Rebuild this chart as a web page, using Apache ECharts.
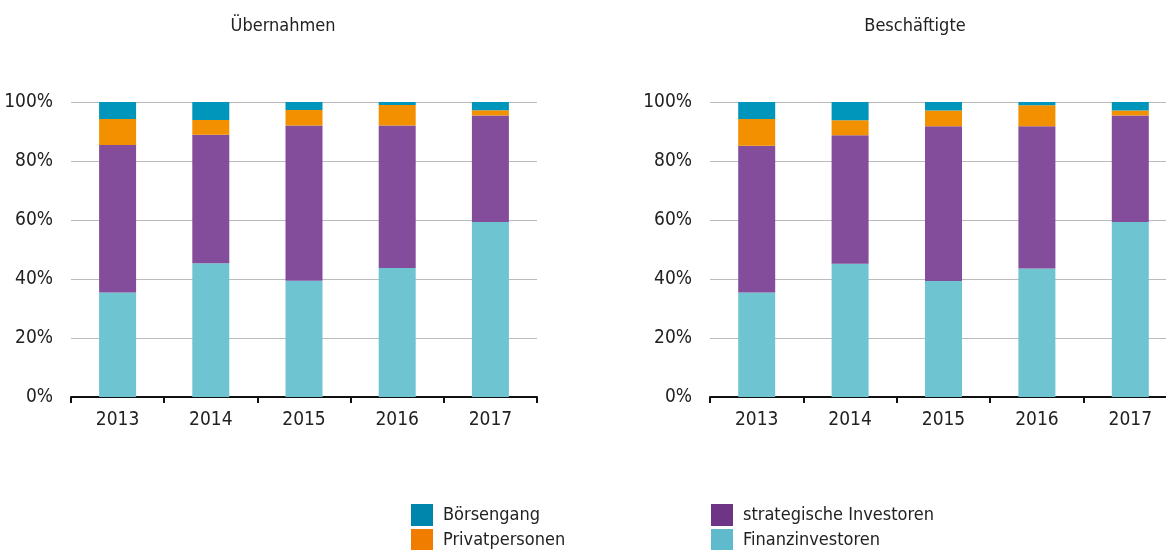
<!DOCTYPE html>
<html>
<head>
<meta charset="utf-8">
<script src="https://cdn.jsdelivr.net/npm/echarts@6/dist/echarts.min.js"></script>
<style>
  html, body { margin: 0; padding: 0; background: #fff; }
  #chart { width: 1166px; height: 550px; }
</style>
</head>
<body>
<div id="chart"></div>
<script>
var years = ['2013', '2014', '2015', '2016', '2017'];

// Übernahmen (%)
var uFinanz = [35.4, 45.3, 39.4, 43.7, 59.3];
var uStrategisch = [50.0, 43.6, 52.6, 48.3, 36.1];
var uPrivat = [8.8, 5.0, 5.3, 7.0, 1.8];
var uBoerse = [5.8, 6.1, 2.7, 1.0, 2.8];

// Beschäftigte (%)
var bFinanz = [35.4, 45.2, 39.3, 43.6, 59.3];
var bStrategisch = [49.8, 43.5, 52.5, 48.2, 36.1];
var bPrivat = [9.0, 5.1, 5.3, 7.1, 1.7];
var bBoerse = [5.8, 6.2, 2.9, 1.1, 2.9];

var yTicks = [0, 20, 40, 60, 80, 100];

var font = '"Liberation Sans Narrow", "DejaVu Sans Condensed", "Roboto", sans-serif';
var colors = {
    'Finanzinvestoren': '#6ec5d1',
    'strategische Investoren': '#834d9c',
    'Privatpersonen': '#f39000',
    'Börsengang': '#0095bb'
};
var legendColors = {
    'Börsengang': '#0085ad',
    'Privatpersonen': '#f07c00',
    'strategische Investoren': '#6e3587',
    'Finanzinvestoren': '#5fbbcb'
};

var chart = echarts.init(document.getElementById('chart'));

function xAxis(idx) {
    return {
        type: 'category',
        gridIndex: idx,
        data: years,
        axisLine: { lineStyle: { color: '#111', width: 2 } },
        axisTick: { show: true, length: 6, lineStyle: { color: '#111', width: 2 } },
        axisLabel: { color: '#222', fontSize: 19, fontFamily: font, margin: 14 }
    };
}
function yAxis(idx) {
    return {
        type: 'value',
        gridIndex: idx,
        min: yTicks[0],
        max: yTicks[yTicks.length - 1],
        interval: 20,
        axisLine: { show: false },
        axisTick: { show: false },
        splitLine: { lineStyle: { color: '#bbbbbb', width: 1 } },
        axisLabel: { color: '#222', fontSize: 19, fontFamily: font, margin: 18, formatter: '{value}%' }
    };
}
function bar(name, data, idx) {
    return {
        name: name,
        type: 'bar',
        stack: 'total' + idx,
        xAxisIndex: idx,
        yAxisIndex: idx,
        barWidth: 37,
        itemStyle: { color: colors[name] },
        data: data
    };
}
function legend(name, left, top) {
    return {
        left: left, top: top, padding: 0,
        itemWidth: 22, itemHeight: 22, itemGap: 0,
        icon: 'rect', selectedMode: false,
        textStyle: { fontSize: 18, color: '#222', fontFamily: font, padding: [0, 0, 0, 5] },
        data: [{ name: name, itemStyle: { color: legendColors[name] } }]
    };
}

chart.setOption({
    animation: false,
    title: [
        { text: 'Übernahmen', left: 278, top: 12, textAlign: 'center',
          textStyle: { fontSize: 18, fontWeight: 'normal', color: '#222', fontFamily: font } },
        { text: 'Beschäftigte', left: 910, top: 12, textAlign: 'center',
          textStyle: { fontSize: 18, fontWeight: 'normal', color: '#222', fontFamily: font } }
    ],
    legend: [
        legend('Börsengang', 411, 504),
        legend('Privatpersonen', 411, 529),
        legend('strategische Investoren', 711, 504),
        legend('Finanzinvestoren', 711, 529)
    ],
    grid: [
        { left: 71, width: 466, top: 102, bottom: 153, outerBoundsMode: 'none' },
        { left: 710, width: 467, top: 102, bottom: 153, outerBoundsMode: 'none' }
    ],
    xAxis: [xAxis(0), xAxis(1)],
    yAxis: [yAxis(0), yAxis(1)],
    series: [
        bar('Finanzinvestoren', uFinanz, 0),
        bar('strategische Investoren', uStrategisch, 0),
        bar('Privatpersonen', uPrivat, 0),
        bar('Börsengang', uBoerse, 0),
        bar('Finanzinvestoren', bFinanz, 1),
        bar('strategische Investoren', bStrategisch, 1),
        bar('Privatpersonen', bPrivat, 1),
        bar('Börsengang', bBoerse, 1)
    ]
});
</script>
</body>
</html>
